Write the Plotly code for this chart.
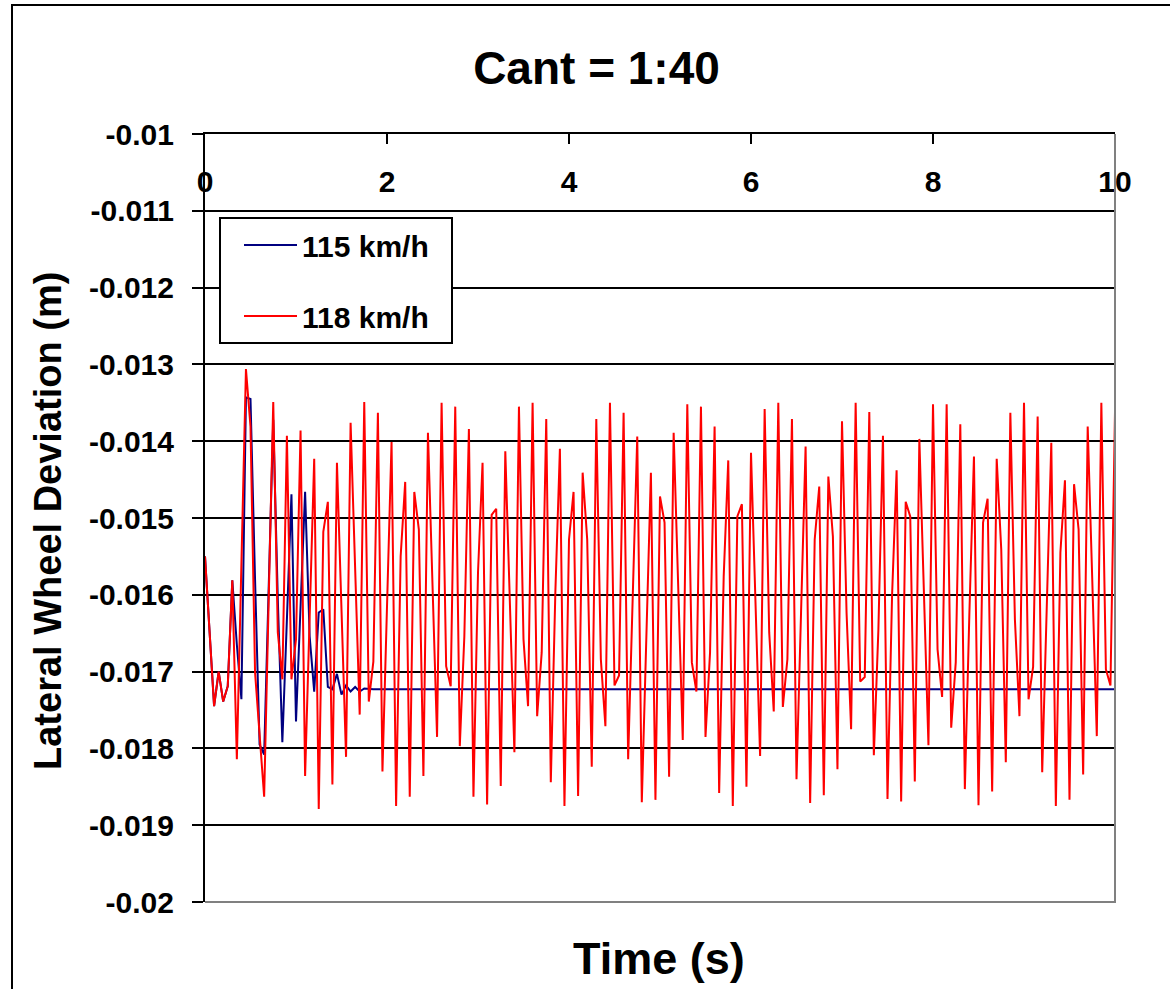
import plotly.graph_objects as go

# ---------------- data ----------------
time_step_s = 0.05

speed_118_kmh = [
    -0.01550, -0.01648, -0.01745, -0.01700, -0.01739, -0.01719, -0.01581, -0.01814, -0.01560, -0.01306,
    -0.01381, -0.01701, -0.01782, -0.01863, -0.01606, -0.01349, -0.01649, -0.01710, -0.01393, -0.01710,
    -0.01658, -0.01386, -0.01836, -0.01629, -0.01423, -0.01879, -0.01518, -0.01479, -0.01847, -0.01428,
    -0.01619, -0.01811, -0.01376, -0.01567, -0.01756, -0.01349, -0.01739, -0.01687, -0.01363, -0.01830,
    -0.01615, -0.01401, -0.01875, -0.01550, -0.01453, -0.01863, -0.01466, -0.01515, -0.01836, -0.01389,
    -0.01587, -0.01785, -0.01350, -0.01693, -0.01719, -0.01355, -0.01797, -0.01654, -0.01384, -0.01863,
    -0.01571, -0.01428, -0.01873, -0.01496, -0.01488, -0.01849, -0.01413, -0.01606, -0.01805, -0.01355,
    -0.01658, -0.01745, -0.01350, -0.01758, -0.01675, -0.01371, -0.01844, -0.01597, -0.01410, -0.01875,
    -0.01528, -0.01466, -0.01862, -0.01441, -0.01528, -0.01824, -0.01371, -0.01684, -0.01771, -0.01350,
    -0.01718, -0.01705, -0.01363, -0.01814, -0.01606, -0.01394, -0.01870, -0.01658, -0.01441, -0.01867,
    -0.01472, -0.01506, -0.01837, -0.01389, -0.01597, -0.01789, -0.01352, -0.01688, -0.01726, -0.01355,
    -0.01785, -0.01675, -0.01381, -0.01858, -0.01576, -0.01425, -0.01875, -0.01498, -0.01482, -0.01850,
    -0.01415, -0.01613, -0.01810, -0.01358, -0.01649, -0.01752, -0.01350, -0.01746, -0.01684, -0.01371,
    -0.01840, -0.01623, -0.01407, -0.01871, -0.01528, -0.01459, -0.01861, -0.01446, -0.01524, -0.01827,
    -0.01374, -0.01623, -0.01775, -0.01350, -0.01713, -0.01707, -0.01362, -0.01809, -0.01645, -0.01393,
    -0.01866, -0.01602, -0.01438, -0.01869, -0.01479, -0.01498, -0.01843, -0.01397, -0.01602, -0.01796,
    -0.01352, -0.01671, -0.01733, -0.01352, -0.01773, -0.01688, -0.01378, -0.01853, -0.01623, -0.01420,
    -0.01874, -0.01506, -0.01475, -0.01856, -0.01423, -0.01541, -0.01818, -0.01363, -0.01632, -0.01758,
    -0.01350, -0.01736, -0.01694, -0.01368, -0.01831, -0.01602, -0.01402, -0.01875, -0.01545, -0.01451,
    -0.01867, -0.01456, -0.01515, -0.01834, -0.01381, -0.01580, -0.01784, -0.01350, -0.01697, -0.01718,
    -0.01362,
]

speed_115_kmh_transient = [
    -0.01550, -0.01648, -0.01745, -0.01700, -0.01739, -0.01719, -0.01581, -0.01665, -0.01736, -0.01343,
    -0.01345, -0.01580, -0.01795, -0.01808, -0.01606, -0.01372, -0.01606, -0.01792, -0.01632, -0.01469,
    -0.01765, -0.01615, -0.01466, -0.01654, -0.01726, -0.01623, -0.01619, -0.01720, -0.01723, -0.01703,
    -0.01730, -0.01718, -0.01726, -0.01720, -0.01726, -0.01722,
]
speed_115_kmh_steady = [-0.01723] * (len(speed_118_kmh) - len(speed_115_kmh_transient))
speed_115_kmh = speed_115_kmh_transient + speed_115_kmh_steady

time_s = [round(i * time_step_s, 2) for i in range(len(speed_118_kmh))]

series_names = ["115 km/h", "118 km/h"]
series_colors = ["#000080", "#FF0000"]

y_tick_values = [-0.01, -0.011, -0.012, -0.013, -0.014, -0.015, -0.016, -0.017, -0.018, -0.019, -0.02]
y_tick_labels = ["-0.01", "-0.011", "-0.012", "-0.013", "-0.014", "-0.015",
                 "-0.016", "-0.017", "-0.018", "-0.019", "-0.02"]

# ---------------- figure ----------------
FONT = "Arial, 'Liberation Sans', sans-serif"
W, H = 1170, 989
L, R, T, B = 205, 55, 134, 87
pw, ph = W - L - R, H - T - B


def px_x(p):
    return (p - L) / pw


def px_y(p):
    return (H - B - p) / ph


fig = go.Figure()
for name, ys, col in zip(series_names, [speed_115_kmh, speed_118_kmh], series_colors):
    fig.add_trace(go.Scatter(
        x=time_s, y=ys, mode="lines", name=name + "\u00a0\u00a0", legendgroup=name,
        line=dict(color=col, width=2),
    ))

fig.update_layout(
    width=W, height=H,
    margin=dict(l=L, r=R, t=T, b=B, pad=0),
    paper_bgcolor="white", plot_bgcolor="white",
    font=dict(family=FONT, color="black", size=30, weight="bold"),
    title=dict(text="Cant = 1:40", x=596.5 / W, xanchor="center",
               y=1 - 68 / H, yanchor="middle",
               font=dict(size=46, family=FONT, weight="bold", color="black")),
    showlegend=True,
    legend=dict(
        x=px_x(219), y=px_y(217), xanchor="left", yanchor="top",
        bgcolor="white", bordercolor="black", borderwidth=2,
        font=dict(size=30, family=FONT, weight="bold", color="black"),
        traceorder="grouped", tracegroupgap=29,
        indentation=18, itemwidth=53,
    ),
)

fig.update_xaxes(
    range=[0, 10], tick0=0, dtick=2, side="top",
    showline=True, linecolor="black", linewidth=2,
    ticks="inside", ticklen=10, tickwidth=2, tickcolor="black",
    ticklabelposition="inside", ticklabeloverflow="allow", ticklabelstandoff=30,
    showgrid=False, zeroline=False,
    tickfont=dict(size=30, family=FONT, weight="bold", color="black"),
)
fig.update_yaxes(
    range=[-0.02, -0.01], tickvals=y_tick_values, ticktext=y_tick_labels,
    showline=True, linecolor="black", linewidth=2,
    ticks="outside", ticklen=11, tickwidth=2, tickcolor="black",
    ticklabelstandoff=12,
    showgrid=True, gridcolor="black", gridwidth=2, zeroline=False,
    tickfont=dict(size=30, family=FONT, weight="bold", color="black"),
)

# gray plot-area border on the right and bottom
fig.add_shape(type="path", xref="x domain", yref="y domain",
              path="M 0,0 L 1,0 L 1,1", line=dict(color="#808080", width=2),
              layer="above")
# outer chart border (left and top visible)
fig.add_shape(type="path", xref="paper", yref="paper",
              path=f"M {px_x(12)},{px_y(1100)} L {px_x(12)},{px_y(5)} L {px_x(1300)},{px_y(5)}",
              line=dict(color="black", width=2), layer="above")

fig.add_annotation(text="Time (s)", xref="paper", yref="paper",
                   x=px_x(659), y=px_y(958), xanchor="center", yanchor="middle",
                   showarrow=False, font=dict(size=45, family=FONT, weight="bold", color="black"))
fig.add_annotation(text="Lateral Wheel Deviation (m)", xref="paper", yref="paper",
                   x=px_x(48), y=px_y(521), xanchor="center", yanchor="middle",
                   textangle=-90, showarrow=False,
                   font=dict(size=38, family=FONT, weight="bold", color="black"))

fig.write_html("out.html")
